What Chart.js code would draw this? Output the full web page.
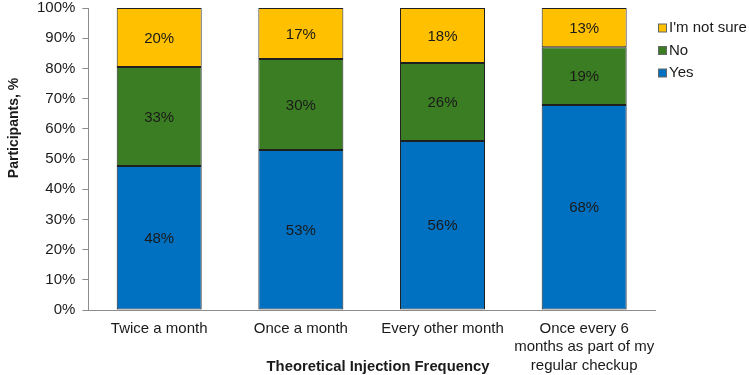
<!DOCTYPE html>
<html><head><meta charset="utf-8">
<script src="https://cdn.jsdelivr.net/npm/chart.js@4"></script>
<style>html,body{margin:0;padding:0;background:#fff}#wrap{width:749px;height:375px}</style>
</head><body><div id="wrap"><canvas id="c"></canvas></div>
<script>
const categories = ["Twice a month", "Once a month", "Every other month", ["Once every 6", "months as part of my", "regular checkup"]];
const yesValues = [47.7, 53.0, 56.0, 67.9];
const noValues = [32.8, 30.1, 25.8, 19.1];
const notSureValues = [19.5, 16.9, 18.2, 13.0];
const yTicks = [0,10,20,30,40,50,60,70,80,90,100];
const xTitle = 'Theoretical Injection Frequency';
const yTitle = 'Participants, %';

const FAM = '"Liberation Sans", Arial, sans-serif';

const labelPlugin = {
  id: 'segLabels',
  afterDatasetsDraw(chart) {
    const ctx = chart.ctx;
    ctx.save();
    ctx.font = '15px ' + FAM;
    ctx.fillStyle = '#1a1a1a';
    ctx.textAlign = 'center';
    ctx.textBaseline = 'middle';
    chart.data.datasets.forEach((ds, di) => {
      const meta = chart.getDatasetMeta(di);
      meta.data.forEach((el, i) => {
        const v = ds.data[i];
        ctx.fillText(Math.round(v) + '%', el.x, (el.y + el.base) / 2 + 1);
      });
    });
    ctx.restore();
  }
};

const legendPlugin = {
  id: 'sideLegend',
  afterDraw(chart) {
    const ctx = chart.ctx;
    ctx.save();
    ctx.font = '15px ' + FAM;
    ctx.textBaseline = 'middle';
    ctx.textAlign = 'left';
    const items = chart.data.datasets.slice().reverse();
    const x0 = chart.chartArea.right + 3;
    items.forEach((ds, k) => {
      const y = 28 + k * 22.5;
      ctx.fillStyle = ds.backgroundColor;
      ctx.fillRect(x0 + 0.5, y - 4, 8, 8);
      ctx.strokeStyle = '#666';
      ctx.lineWidth = 1;
      ctx.strokeRect(x0 + 0.5, y - 4, 8, 8);
      ctx.fillStyle = '#1a1a1a';
      ctx.fillText(ds.label, x0 + 11, y);
    });
    // axis titles
    ctx.fillStyle = '#1a1a1a';
    ctx.textAlign = 'center';
    ctx.font = 'bold 14.8px ' + FAM;
    ctx.fillText(xTitle, 378, 367);
    ctx.translate(14, 128);
    ctx.rotate(-Math.PI / 2);
    ctx.font = 'bold 14px ' + FAM;
    ctx.fillText(yTitle, 0, 0);
    ctx.restore();
  }
};

const font = {family: FAM, size: 15};
new Chart(document.getElementById('c'), {
  type: 'bar',
  data: {
    labels: categories,
    datasets: [
      {label: 'Yes', data: yesValues, backgroundColor: '#0070C0'},
      {label: 'No', data: noValues, backgroundColor: '#3B7D23'},
      {label: "I'm not sure", data: notSureValues, backgroundColor: '#FFC000'}
    ].map(d => Object.assign(d, {borderColor: '#1f1f1f', borderWidth: 1, borderSkipped: false, barPercentage: 0.6, categoryPercentage: 1}))
  },
  options: {
    responsive: true, maintainAspectRatio: false, animation: false,
    layout: {padding: {top: 0, right: 94, left: 3, bottom: 0}},
    plugins: {
      tooltip: {enabled: false},
      legend: {display: false}
    },
    scales: {
      x: {
        stacked: true,
        afterFit: s => { s.height = 65; },
        grid: {display: false},
        border: {color: '#8c8c8c', width: 1},
        ticks: {color: '#1a1a1a', font: {family: FAM, size: 15, lineHeight: 1.25}, maxRotation: 0, minRotation: 0, autoSkip: false, padding: 1},
        title: {display: false}
      },
      y: {
        stacked: true, min: 0, max: 100,
        afterBuildTicks: s => { s.ticks = yTicks.map(v => ({value: v})); },
        afterFit: s => { s.paddingTop = 8; s.paddingBottom = 0; },
        grid: {drawOnChartArea: false, tickLength: 6, color: '#8c8c8c'},
        border: {color: '#8c8c8c', width: 1},
        ticks: {color: '#1a1a1a', font: font, padding: 7, callback: v => v + '%'},
        title: {display: true, text: yTitle, color: 'rgba(0,0,0,0)', font: {family: FAM, size: 15, weight: 'bold'}, padding: {top: 1.5, bottom: 7.5}}
      }
    }
  },
  plugins: [labelPlugin, legendPlugin]
});
</script></body></html>
